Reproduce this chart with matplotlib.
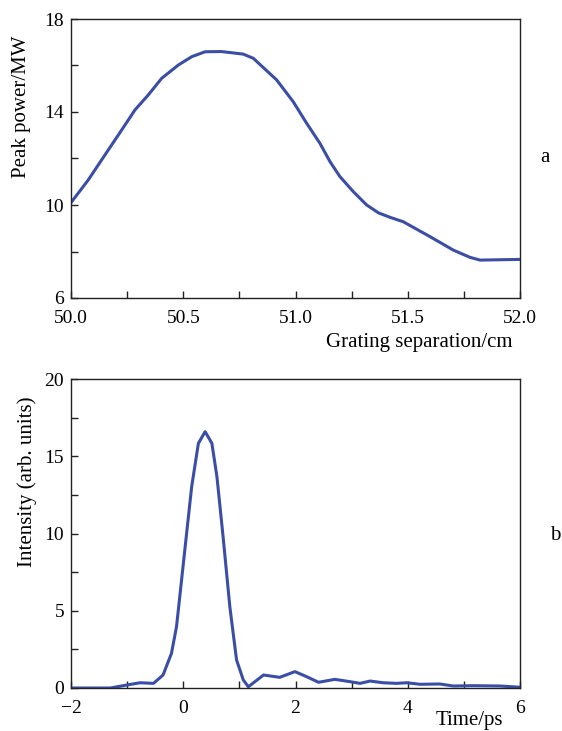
import numpy as np
import matplotlib
matplotlib.use('agg')
import matplotlib.pyplot as plt
from matplotlib.ticker import MultipleLocator, FixedLocator

plt.rcParams['font.family'] = ['Liberation Serif', 'DejaVu Serif']

# panel a: peak power vs grating separation
sep_cm = [50.0, 50.077, 50.151, 50.226, 50.285, 50.344, 50.404, 50.478,
          50.538, 50.597, 50.67, 50.767, 50.812, 50.916, 50.99, 51.05,
          51.109, 51.154, 51.198, 51.258, 51.317, 51.37, 51.421, 51.48,
          51.599, 51.703, 51.777, 51.822, 52.0]
peak_mw = [10.10, 11.08, 12.15, 13.23, 14.09, 14.73, 15.45, 16.02,
           16.38, 16.59, 16.60, 16.49, 16.31, 15.38, 14.44, 13.51,
           12.65, 11.86, 11.22, 10.57, 10.0, 9.66, 9.47, 9.28,
           8.64, 8.06, 7.75, 7.63, 7.66]

# panel b: pulse intensity vs time
time_ps = [-2.0, -1.30, -1.01, -0.77, -0.53, -0.36, -0.21, -0.12, -0.03, 0.06,
           0.15, 0.27, 0.39, 0.51, 0.60, 0.71, 0.83, 0.95, 1.07, 1.16,
           1.43, 1.72, 1.99, 2.20, 2.41, 2.70, 2.97, 3.15, 3.33, 3.56,
           3.80, 3.98, 4.22, 4.57, 4.81, 5.17, 5.64, 6.0]
intensity = [0.0, 0.0, 0.19, 0.34, 0.30, 0.84, 2.24, 3.97, 6.99, 10.01,
             13.03, 15.84, 16.59, 15.84, 13.68, 9.79, 5.26, 1.81, 0.52, 0.08,
             0.84, 0.69, 1.06, 0.73, 0.37, 0.56, 0.41, 0.30, 0.45, 0.34,
             0.30, 0.34, 0.24, 0.26, 0.13, 0.15, 0.13, 0.05]

LINE = '#3a4ea6'
FS = 15      # axis labels
TFS = 14     # tick labels
W, H = 562, 731


def style(ax):
    for s in ['top', 'right', 'bottom', 'left']:
        ax.spines[s].set_linewidth(1.0)
        ax.spines[s].set_color('#222222')
    ax.tick_params(which='both', direction='in', top=False, right=False,
                   labelsize=TFS, width=1.0, color='#222222', length=5)
    ax.tick_params(axis='x', pad=8.5)
    ax.tick_params(axis='y', pad=5)


def ftext(px, py, s, **kw):
    fig.text(px / W, 1 - py / H, s, fontsize=FS, **kw)


fig = plt.figure(figsize=(5.62, 7.31), dpi=100)

ax1 = fig.add_axes([71 / W, 1 - 298 / H, 449 / W, 279 / H])
ax1.plot(sep_cm, peak_mw, color=LINE, lw=2.2,
         solid_capstyle='round', solid_joinstyle='round')
ax1.set_xlim(50.0, 52.0)
ax1.set_ylim(6, 18)
ax1.xaxis.set_major_locator(MultipleLocator(0.5))
ax1.xaxis.set_minor_locator(MultipleLocator(0.25))
ax1.yaxis.set_major_locator(FixedLocator([6, 10, 14, 18]))
ax1.yaxis.set_minor_locator(FixedLocator([8, 12, 16]))
ax1.xaxis.set_major_formatter(lambda v, p: f'{v:.1f}')
ax1.yaxis.set_major_formatter(lambda v, p: f'{v:.0f}')
style(ax1)
ftext(22, 107, 'Peak power/MW', rotation=90, ha='center', va='center')
ftext(512, 347, 'Grating separation/cm', ha='right', va='baseline')
ftext(545, 157, 'a', ha='center', va='center')

ax2 = fig.add_axes([71 / W, 1 - 688 / H, 449 / W, 309 / H])
ax2.plot(time_ps, intensity, color=LINE, lw=2.2,
         solid_capstyle='round', solid_joinstyle='round')
ax2.set_xlim(-2, 6)
ax2.set_ylim(0, 20)
ax2.xaxis.set_major_locator(MultipleLocator(2))
ax2.xaxis.set_minor_locator(MultipleLocator(1))
ax2.yaxis.set_major_locator(MultipleLocator(5))
ax2.yaxis.set_minor_locator(MultipleLocator(2.5))
ax2.xaxis.set_major_formatter(lambda v, p: f'{v:.0f}'.replace('-', '\u2212'))
ax2.yaxis.set_major_formatter(lambda v, p: f'{v:.0f}')
style(ax2)
ftext(27, 482, 'Intensity (arb. units)', rotation=90, ha='center', va='center')
ftext(503, 725, 'Time/ps', ha='right', va='baseline')
ftext(555, 535, 'b', ha='center', va='center')

fig.savefig('out.png', dpi=100)
